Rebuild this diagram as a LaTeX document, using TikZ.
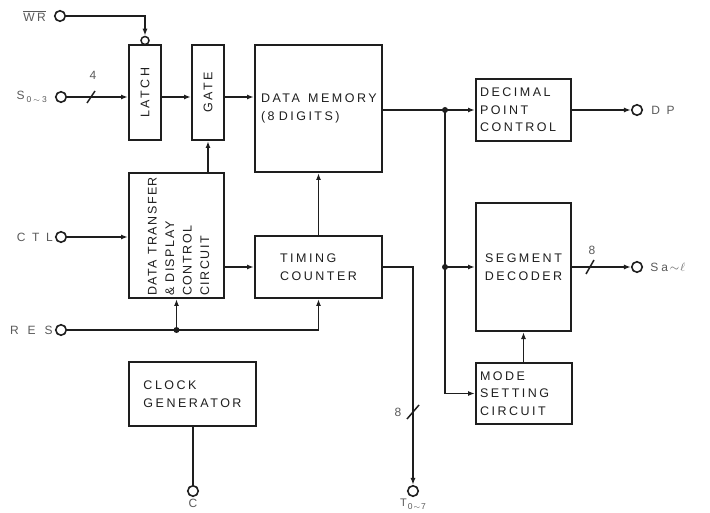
\documentclass[tikz,border=0pt]{standalone}
\usepackage{fontspec}
\setmainfont{Liberation Sans}[LetterSpace=20]
\usetikzlibrary{arrows.meta}
\definecolor{ink}{HTML}{1E1E1E}
\definecolor{lbl}{HTML}{5A5A5A}
\newcommand{\subsm}[1]{\raisebox{-2.5pt}{\fontsize{8.5}{9}\selectfont #1}}
\begin{document}
\begin{tikzpicture}[x=1pt,y=-1pt,
  font=\fontsize{12.5}{17.5}\selectfont,
  blk/.style={draw=ink, line width=2pt, inner sep=0pt, text=ink},
  wire/.style={draw=ink, line width=1.5pt},
  arr/.style={wire, -{Latex[length=7pt,width=5pt]}},
  term/.style={circle, draw=ink, line width=1.6pt, fill=white, minimum size=10.5pt, inner sep=0pt},
  tlab/.style={text=lbl, inner sep=0pt, font=\fontsize{12}{14}\selectfont\addfontfeature{LetterSpace=55}},
  dot/.style={circle, fill=ink, minimum size=6pt, inner sep=0pt},
  bus/.style={draw=ink, line width=1.5pt},
  num/.style={text=lbl, inner sep=0pt, font=\fontsize{12}{12}\selectfont}
]
\useasboundingbox (0,0) rectangle (710,513);

% blocks
\node[blk, minimum width=32pt, minimum height=95pt] (latch) at (145,92.5) {};
\node[rotate=90, text=ink, inner sep=0pt] (latcht) at (latch.center) {LATCH};
\node[blk, minimum width=32pt, minimum height=95pt] (gate) at (208,92.5) {};
\node[rotate=90, text=ink, inner sep=0pt] (gatet) at (gate.center) {GATE};
\node[blk, minimum width=127pt, minimum height=127pt, text width=115pt, align=left] (mem) at (318.5,108.5) {DATA\hspace{4pt} MEMORY\\(8 DIGITS)};
\node[blk, minimum width=95pt, minimum height=62pt, text width=87pt, align=left] (dec) at (523.5,110) {DECIMAL\\POINT\\CONTROL};
\node[blk, minimum width=95pt, minimum height=128pt, align=center] (seg) at (523.5,267) {SEGMENT\\DECODER};
\node[blk, minimum width=96pt, minimum height=61pt, text width=88pt, align=left] (mode) at (524,393.5) {MODE\\SETTING\\CIRCUIT};
\node[blk, minimum width=95pt, minimum height=125pt] (dt) at (176.5,235.5) {};
\node[rotate=90, anchor=west, align=left, text=ink, inner sep=0pt, font=\fontsize{12.5}{17.5}\selectfont\addfontfeature{LetterSpace=12}] (dtt) at (178.5,296) {DATA TRANSFER\\\& DISPLAY\\CONTROL\\CIRCUIT};
\node[blk, minimum width=127pt, minimum height=62pt, align=left] (tim) at (318.5,267) {TIMING\\COUNTER};
\node[blk, minimum width=127pt, minimum height=64pt, align=left] (clk) at (192.5,394) {CLOCK\\GENERATOR};

% terminals
\node[term] (wr) at (60,16) {};
\node[tlab, anchor=east, font=\fontsize{12}{14}\selectfont\addfontfeature{LetterSpace=20}] (wrl) at ([xshift=-8pt]wr.west) {$\overline{\mbox{WR}}$};
\node[term] (s0) at (61,97) {};
\node[tlab, anchor=east, font=\fontsize{12}{14}\selectfont] (s0l) at ([xshift=-8pt]s0.west) {S\hspace{2pt}\subsm{0\hspace{2pt}$\sim$\hspace{2pt}3}};
\node[term] (ctl) at (61,237) {};
\node[tlab, anchor=east] (ctll) at ([xshift=-2pt]ctl.west) {CTL};
\node[term] (res) at (61,330) {};
\node[tlab, anchor=east, font=\fontsize{12}{14}\selectfont\addfontfeature{LetterSpace=75}] (resl) at ([xshift=-2pt]res.west) {RES};
\node[term] (dp) at (637,110) {};
\node[tlab, anchor=west] (dpl) at ([xshift=8pt]dp.east) {DP};
\node[term] (sa) at (637,267) {};
\node[tlab, anchor=west, font=\fontsize{12}{14}\selectfont] (sal) at ([xshift=7pt]sa.east) {S\hspace{3pt}a\hspace{2pt}$\sim$\hspace{1pt}$\ell$};
\node[term] (c) at (193,491) {};
\node[tlab, anchor=north] (cl) at ([yshift=-2pt]c.south) {C};
\node[term] (t) at (413,491) {};
\node[tlab, anchor=north, font=\fontsize{11}{12}\selectfont] (tl) at ([yshift=-2pt]t.south) {T\hspace{1pt}\subsm{0\hspace{1pt}$\sim$\hspace{1pt}7}};

% inversion bubble on LATCH
\node[circle, draw=ink, line width=1.5pt, minimum size=8pt, inner sep=0pt] (bub) at (145,40.5) {};

% connectors
\draw[arr] (wr.east) -| (bub.north);
\draw[arr] (s0.east) -- (s0 -| latch.west);
\draw[bus] (87,103) -- (95,91);
\node[num] (n4) at (93,75) {4};
\draw[arr] (latch.east |- s0) -- (gate.west |- s0);
\draw[arr] (gate.east |- s0) -- (mem.west |- s0);

\coordinate (j1) at (445,110);
\coordinate (j2) at (445,267);
\coordinate (j3) at (445,393.5);
\draw[wire] (mem.east |- j1) -- (j1);
\draw[arr] (j1) -- (dec.west |- j1);
\draw[wire] (j1) -- (j3);
\draw[arr] (j3) -- (mode.west);
\draw[arr] (j2) -- (seg.west);
\node[dot] (d1) at (j1) {};
\node[dot] (d2) at (j2) {};

\draw[arr] (dec.east) -- (dp.west);
\draw[arr] (seg.east) -- (sa.west);
\draw[bus] (586,274) -- (594,260);
\node[num] (n8a) at (592,250) {8};
\draw[arr] (seg.south |- mode.north) -- (seg.south);

\draw[arr] (dt.north -| gate.south) -- (gate.south);
\draw[arr] (ctl.east) -- (ctl -| dt.west);
\draw[arr] (dt.east |- tim.west) -- (tim.west);
\draw[arr] (tim.north) -- (mem.south);

\coordinate (jr) at (dt.south |- res);
\draw[wire] (res.east) -- (jr);
\draw[arr] (jr) -| (tim.south);
\draw[arr] (jr) -- (dt.south);
\node[dot] (d3) at (jr) {};

\draw[arr] (tim.east) -| (t.north);
\draw[bus] (407,419) -- (419,405);
\node[num] (n8b) at (398,412) {8};

\draw[wire] (clk.south -| c) -- (c.north);
\end{tikzpicture}
\end{document}
